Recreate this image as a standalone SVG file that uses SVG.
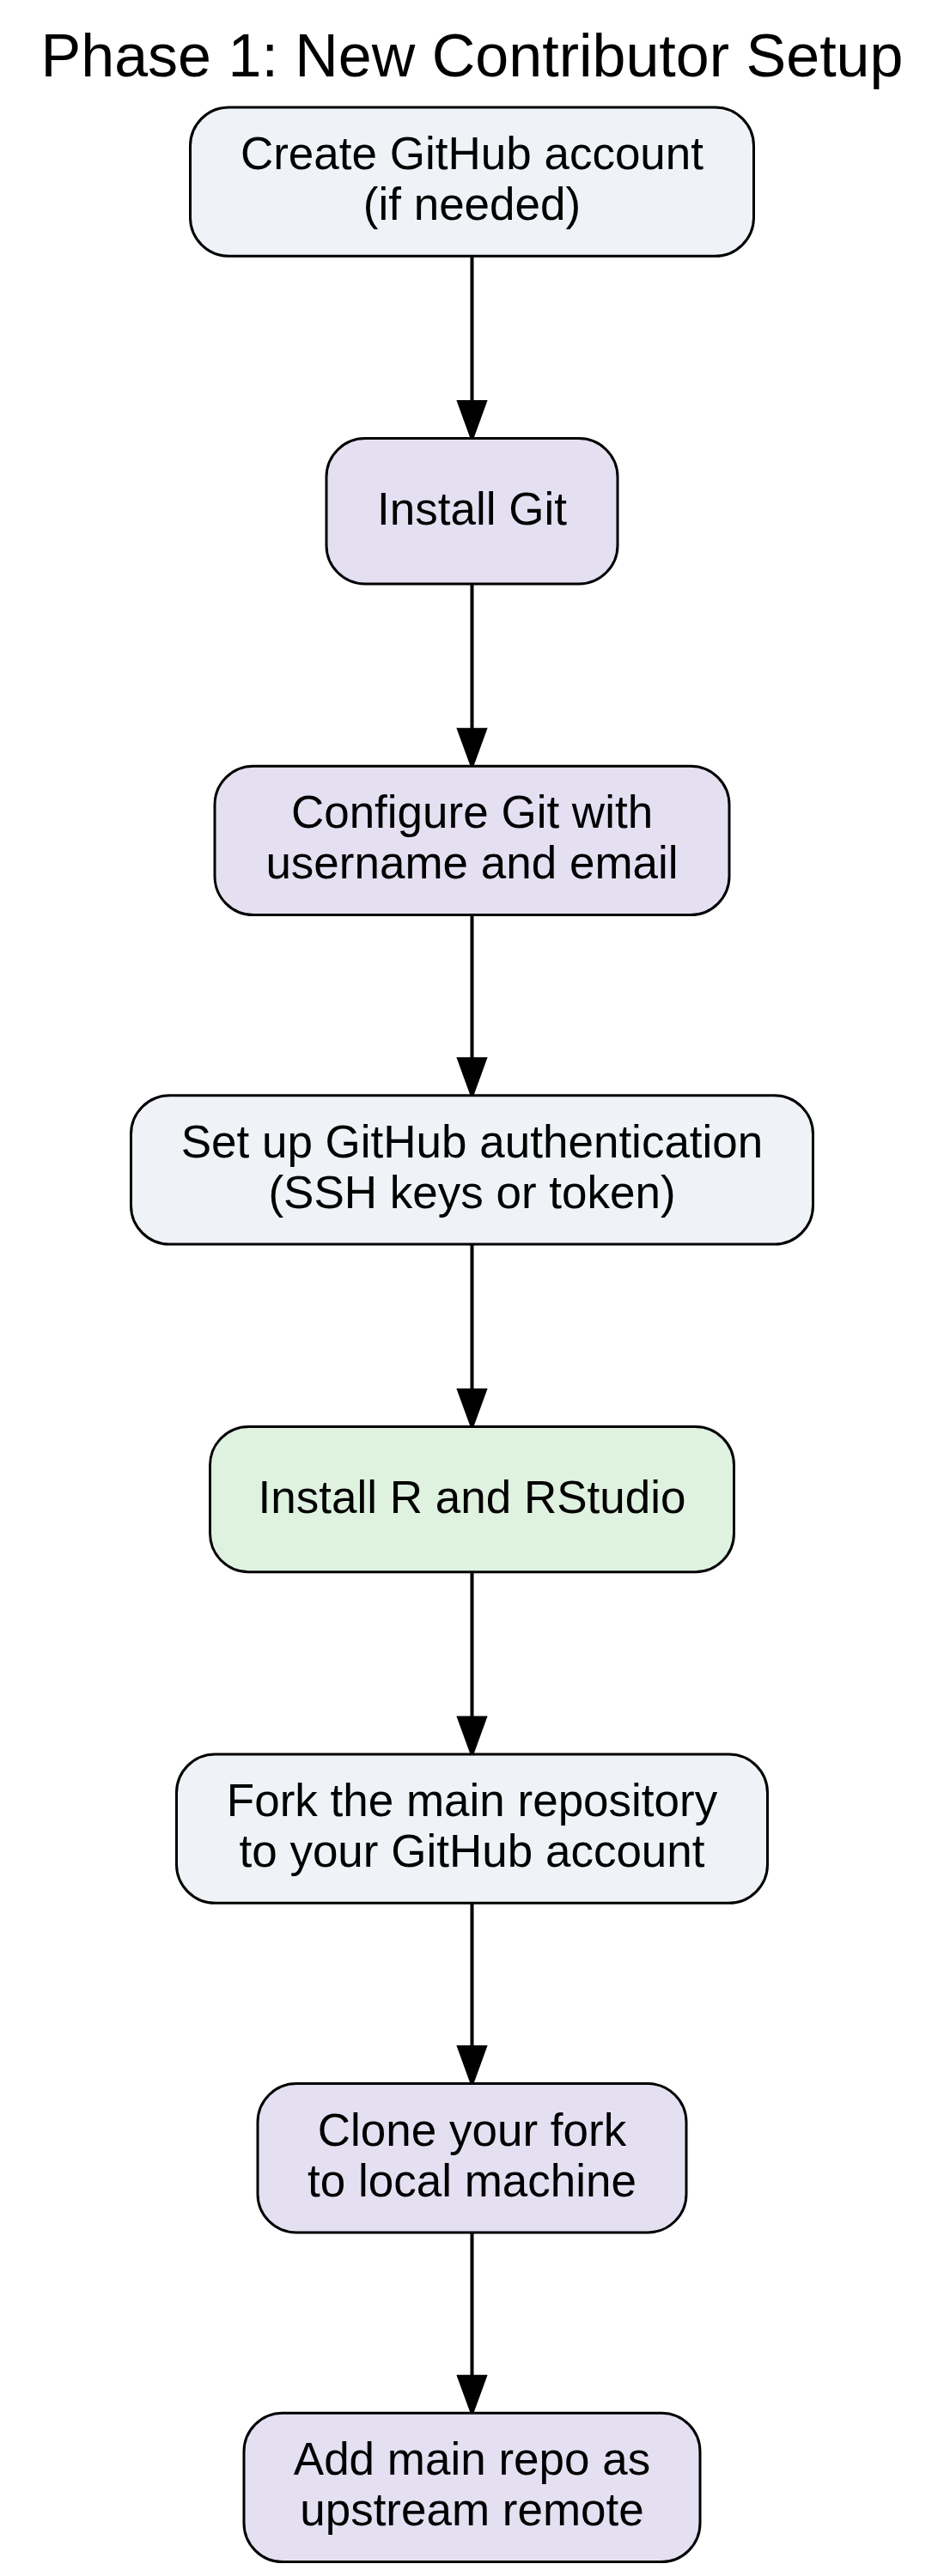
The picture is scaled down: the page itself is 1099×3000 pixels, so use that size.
<svg xmlns="http://www.w3.org/2000/svg" width="1099" height="3000" viewBox="0 0 1099 3000">
<style>
.bg{fill:#ffffff}
.node rect{stroke:#000000;stroke-width:3}
.blue{fill:#eff2f7}
.lav{fill:#e4e0f2}
.green{fill:#dff1df}
text{font-family:"Liberation Sans",Arial,sans-serif;fill:#000000;text-anchor:middle}
.lbl{font-size:53px}
.title{font-size:70px}
.edge{stroke:#000000;stroke-width:4;fill:none}
</style>
<defs>
<marker id="ah" markerUnits="userSpaceOnUse" viewBox="-4 -4 56 40" refX="0" refY="16" markerWidth="56" markerHeight="40" orient="auto" overflow="visible">
<path d="M0,0 L44,16 L0,32 z" fill="#000000" stroke="#000000" stroke-width="3"/>
</marker>
</defs>
<rect class="bg" x="0" y="0" width="1099" height="3000"/>
<text class="title" x="549.5" y="89">Phase 1: New Contributor Setup</text>

<g id="connectors">
<path class="edge" d="M549.5,298.3 V467.6" marker-end="url(#ah)"/>
<path class="edge" d="M549.5,679.9 V849.2" marker-end="url(#ah)"/>
<path class="edge" d="M549.5,1065.5 V1232.8" marker-end="url(#ah)"/>
<path class="edge" d="M549.5,1449.1 V1618.4" marker-end="url(#ah)"/>
<path class="edge" d="M549.5,1830.7 V2000" marker-end="url(#ah)"/>
<path class="edge" d="M549.5,2216.3 V2383.6" marker-end="url(#ah)"/>
<path class="edge" d="M549.5,2599.9 V2767.2" marker-end="url(#ah)"/>
</g>

<g id="node1" class="node">
<rect class="blue" x="221.5" y="125" width="656" height="173.3" rx="45" ry="45"/>
<text class="lbl" x="549.5" y="197.2">Create GitHub account</text>
<text class="lbl" x="549.5" y="256.2">(if needed)</text>
</g>
<g id="node2" class="node">
<rect class="lav" x="380" y="510.6" width="339" height="169.3" rx="45" ry="45"/>
<text class="lbl" x="549.5" y="610.7">Install Git</text>
</g>
<g id="node3" class="node">
<rect class="lav" x="250" y="892.2" width="599" height="173.3" rx="45" ry="45"/>
<text class="lbl" x="549.5" y="964.4">Configure Git with</text>
<text class="lbl" x="549.5" y="1023.4">username and email</text>
</g>
<g id="node4" class="node">
<rect class="blue" x="152.5" y="1275.8" width="794" height="173.3" rx="45" ry="45"/>
<text class="lbl" x="549.5" y="1348">Set up GitHub authentication</text>
<text class="lbl" x="549.5" y="1407">(SSH keys or token)</text>
</g>
<g id="node5" class="node">
<rect class="green" x="244.5" y="1661.4" width="610" height="169.3" rx="45" ry="45"/>
<text class="lbl" x="549.5" y="1761.5">Install R and RStudio</text>
</g>
<g id="node6" class="node">
<rect class="blue" x="205.5" y="2043" width="688" height="173.3" rx="45" ry="45"/>
<text class="lbl" x="549.5" y="2115.2">Fork the main repository</text>
<text class="lbl" x="549.5" y="2174.2">to your GitHub account</text>
</g>
<g id="node7" class="node">
<rect class="lav" x="300" y="2426.6" width="499" height="173.3" rx="45" ry="45"/>
<text class="lbl" x="549.5" y="2498.8">Clone your fork</text>
<text class="lbl" x="549.5" y="2557.8">to local machine</text>
</g>
<g id="node8" class="node">
<rect class="lav" x="284" y="2810.2" width="531" height="173.3" rx="45" ry="45"/>
<text class="lbl" x="549.5" y="2882.4">Add main repo as</text>
<text class="lbl" x="549.5" y="2941.4">upstream remote</text>
</g>
</svg>
